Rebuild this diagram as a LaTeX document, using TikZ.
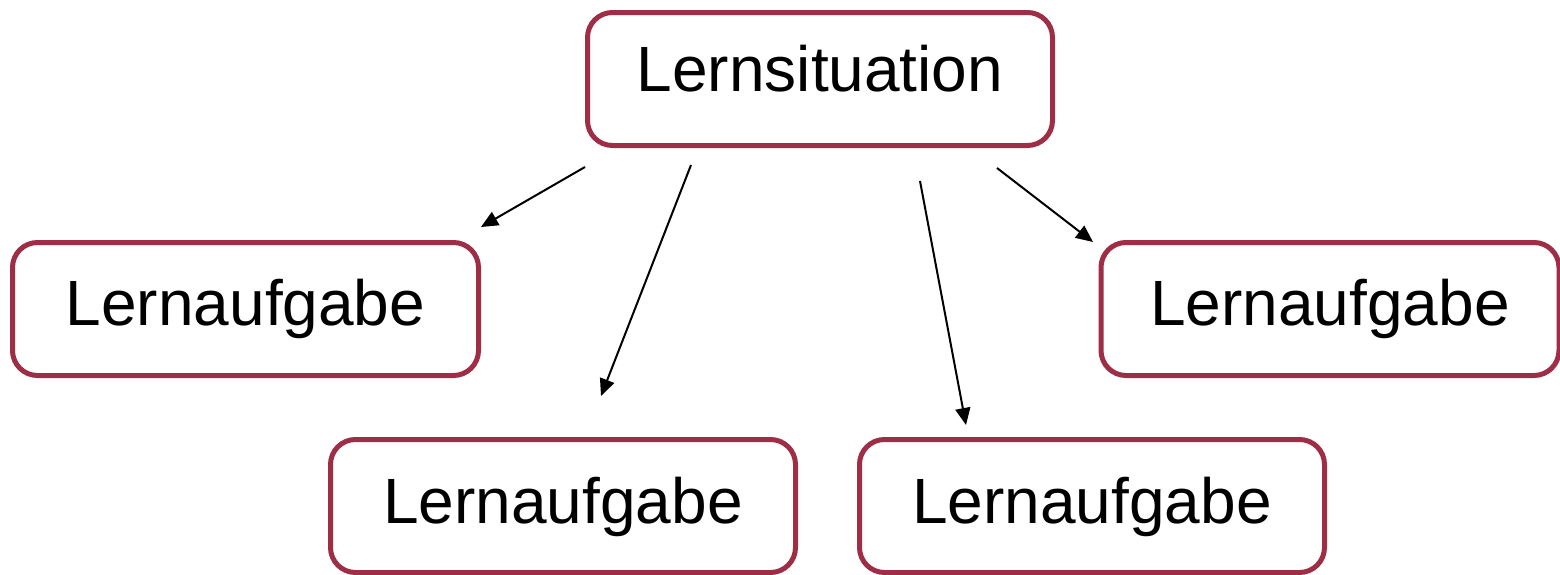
\documentclass[tikz,border=0pt]{standalone}
\usepackage{fontspec}
\setmainfont{Liberation Sans}
\usetikzlibrary{arrows.meta}
\definecolor{boxred}{RGB}{158,45,70}
\tikzset{
  taskbox/.style={draw=boxred, line width=2.5pt, rounded corners=12.5pt,
    fill=white, inner sep=0pt, minimum height=66.5pt,
    font=\fontsize{32}{38}\selectfont, text height=22.9pt},
  link/.style={line width=1pt, -{Triangle[length=8.5pt,width=7.5pt]}}
}
\begin{document}
\begin{tikzpicture}[x=0.5pt,y=-0.5pt]
  \useasboundingbox (0,0) rectangle (1560,574);
  % main situation and its tasks
  \node[taskbox, minimum width=232.5pt, text depth=10pt] (sit) at (820,79) {Lernsituation};
  \node[taskbox, minimum width=233pt, text depth=6pt] (t1) at (245.5,309) {Lernaufgabe};
  \node[taskbox, minimum width=229pt, text depth=6pt] (t4) at (1330,309) {Lernaufgabe};
  \node[taskbox, minimum width=232.5pt, minimum height=66.5pt, text depth=5pt] (t2) at (563,506) {Lernaufgabe};
  \node[taskbox, minimum width=232.5pt, minimum height=66.5pt, text depth=5pt] (t3) at (1092,506) {Lernaufgabe};
  % free-standing arrow ends
  \coordinate (a1s) at (585,167);  \coordinate (a1e) at (481,227);
  \coordinate (a2s) at (691,165);  \coordinate (a2e) at (601,396);
  \coordinate (a3s) at (920,181);  \coordinate (a3e) at (966,425);
  \coordinate (a4s) at (997,168);  \coordinate (a4e) at (1093,242);
  \draw[link] (a1s) -- (a1e);
  \draw[link] (a2s) -- (a2e);
  \draw[link] (a3s) -- (a3e);
  \draw[link] (a4s) -- (a4e);
\end{tikzpicture}
\end{document}
